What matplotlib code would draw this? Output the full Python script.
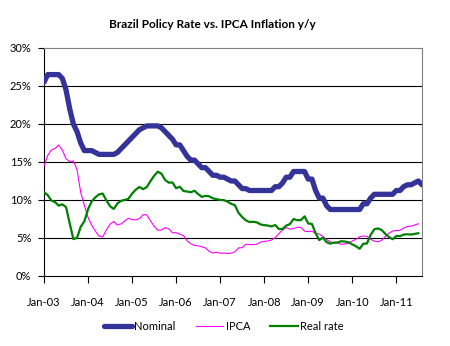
import numpy as np
import matplotlib
matplotlib.use('Agg')
import matplotlib.pyplot as plt

plt.rcParams['font.family'] = ['Lato', 'DejaVu Sans']

# Monthly data, Jan-03 onwards (percent)
nominal = [25.5, 26.5, 26.5, 26.5, 26.5, 26.0, 24.5, 22.0, 20.0, 19.0, 17.5, 16.5,
           16.5, 16.5, 16.25, 16.0, 16.0, 16.0, 16.0, 16.0, 16.25, 16.75, 17.25, 17.75,
           18.25, 18.75, 19.25, 19.5, 19.75, 19.75, 19.75, 19.75, 19.5, 19.0, 18.5, 18.0,
           17.25, 17.25, 16.5, 15.75, 15.25, 15.25, 14.75, 14.25, 14.25, 13.75, 13.25, 13.25,
           13.0, 13.0, 12.75, 12.5, 12.5, 12.0, 11.5, 11.5, 11.25, 11.25, 11.25, 11.25,
           11.25, 11.25, 11.25, 11.75, 11.75, 12.25, 13.0, 13.0, 13.75, 13.75, 13.75, 13.75,
           12.75, 12.75, 11.25, 10.25, 10.25, 9.25, 8.75, 8.75, 8.75, 8.75, 8.75, 8.75,
           8.75, 8.75, 8.75, 9.5, 9.5, 10.25, 10.75, 10.75, 10.75, 10.75, 10.75, 10.75,
           11.25, 11.25, 11.75, 12.0, 12.0, 12.25, 12.5, 12.0]

ipca = [14.47, 15.85, 16.57, 16.77, 17.24, 16.57, 15.43, 15.07, 15.14, 13.98, 11.02, 9.30,
        7.71, 6.69, 5.89, 5.26, 5.15, 6.06, 6.81, 7.18, 6.71, 6.86, 7.24, 7.60,
        7.41, 7.39, 7.54, 8.07, 8.05, 7.27, 6.57, 6.02, 6.04, 6.36, 6.22, 5.69,
        5.70, 5.51, 5.32, 4.63, 4.23, 4.03, 3.97, 3.84, 3.70, 3.26, 3.02, 3.14,
        2.99, 3.02, 2.96, 3.00, 3.18, 3.69, 3.74, 4.18, 4.15, 4.12, 4.19, 4.46,
        4.56, 4.61, 4.73, 5.04, 5.58, 6.06, 6.37, 6.17, 6.25, 6.41, 6.39, 5.90,
        5.84, 5.90, 5.61, 5.53, 5.20, 4.80, 4.50, 4.36, 4.34, 4.17, 4.22, 4.31,
        4.59, 4.83, 5.17, 5.26, 5.22, 4.84, 4.60, 4.49, 4.70, 5.20, 5.63, 5.91,
        5.99, 6.01, 6.30, 6.51, 6.55, 6.71, 6.87]

real_rate = [11.03, 10.65, 9.93, 9.73, 9.26, 9.43, 9.07, 6.93, 4.86, 5.02, 6.48, 7.20,
             8.79, 9.81, 10.36, 10.74, 10.85, 9.94, 9.19, 8.82, 9.54, 9.89, 10.01, 10.15,
             10.84, 11.36, 11.71, 11.43, 11.70, 12.48, 13.18, 13.73, 13.46, 12.64, 12.28, 12.31,
             11.55, 11.74, 11.18, 11.12, 11.02, 11.22, 10.78, 10.41, 10.55, 10.49, 10.23, 10.11,
             10.01, 9.98, 9.79, 9.50, 9.32, 8.31, 7.76, 7.32, 7.10, 7.13, 7.06, 6.79,
             6.69, 6.64, 6.52, 6.71, 6.17, 6.19, 6.63, 6.83, 7.50, 7.34, 7.36, 7.85,
             6.91, 6.85, 5.64, 4.72, 5.05, 4.45, 4.25, 4.39, 4.41, 4.58, 4.53, 4.44,
             4.16, 3.92, 3.58, 4.24, 4.28, 5.41, 6.15, 6.26, 6.05, 5.55, 5.12, 4.84,
             5.26, 5.24, 5.45, 5.49, 5.45, 5.54, 5.63]

x_labels = ['Jan-03', 'Jan-04', 'Jan-05', 'Jan-06', 'Jan-07', 'Jan-08', 'Jan-09', 'Jan-10', 'Jan-11']
y_ticks = [0, 5, 10, 15, 20, 25, 30]

fig = plt.figure(figsize=(4.5, 3.46), dpi=100)
ax = fig.add_axes([44/450, 1-276/346, 378/450, 228/346])

# Horizontal grid
for y in y_ticks[1:-1]:
    ax.axhline(y, color='black', linewidth=0.8, zorder=1)

ax.plot(np.arange(len(nominal)), nominal, color='#333399', linewidth=3.8,
        solid_capstyle='round', label='Nominal', zorder=3)
ax.plot(np.arange(len(ipca)), ipca, color='#FF00FF', linewidth=0.8, label='IPCA', zorder=4)
ax.plot(np.arange(len(real_rate)), real_rate, color='#008000', linewidth=1.6, label='Real rate', zorder=5)

ax.set_xlim(0, 103)
ax.set_ylim(0, 30)
ax.set_yticks(y_ticks)
ax.set_yticklabels([str(v) + '%' for v in y_ticks])
ax.set_xticks(np.arange(len(x_labels)) * 12)
ax.set_xticklabels(x_labels)

# Spines: black axes, grey border
ax.spines['left'].set_color('black')
ax.spines['bottom'].set_color('black')
ax.spines['top'].set_color('#808080')
ax.spines['right'].set_color('#808080')
for s in ax.spines.values():
    s.set_linewidth(0.8)
ax.tick_params(axis='y', length=4, width=0.8, pad=5, labelsize=8)
ax.tick_params(axis='x', length=5, width=0.8, pad=10, labelsize=8)

fig.text(212/450, 1-24/346, 'Brazil Policy Rate vs. IPCA Inflation y/y', ha='center', va='center',
         fontsize=8.5, fontweight='bold')

fig.legend(loc='center', bbox_to_anchor=(224/450, 1-326/346), ncol=3, frameon=False,
           fontsize=8, handlelength=2.5, handletextpad=0.2, columnspacing=1.8)

plt.savefig('out.png', dpi=100)
